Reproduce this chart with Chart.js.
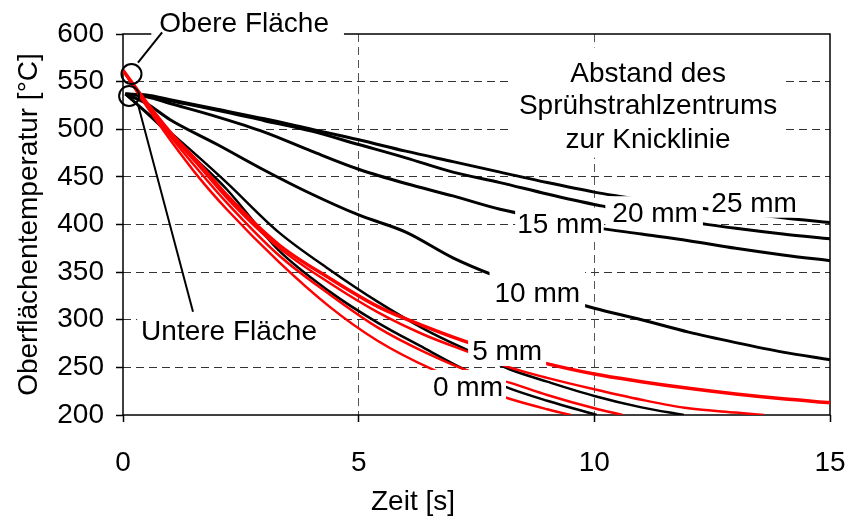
<!DOCTYPE html>
<html><head><meta charset="utf-8">
<script src="https://cdn.jsdelivr.net/npm/chart.js@4/dist/chart.umd.min.js"></script>
<style>html,body{margin:0;padding:0;background:#fff}</style>
</head><body>
<canvas id="c" width="851" height="518"></canvas>
<script>
// ---- tick labels ----
const yTicks = [200, 250, 300, 350, 400, 450, 500, 550, 600];
const xTicks = [0, 5, 10, 15];

// ---- upper surface (red) ----
const tR1 = [0, 0.5, 1, 1.6, 2.2, 3.3, 4.4, 5.4, 6.4, 7.4, 8.9, 10, 11, 12, 13, 14, 15];
const vR1 = [562, 528, 497, 465, 431, 379, 343, 314, 293, 275, 255, 243, 235, 228, 222, 217, 213];
const tR2 = [0, 0.5, 1, 1.6, 2.2, 3.3, 4.4, 5.4, 6.4, 7.4, 8.2, 9, 10, 11, 12, 13, 13.6];
const vR2 = [562, 527, 495, 462, 428, 376, 338, 308, 284, 265, 250, 239, 227, 216, 207, 202.5, 200];
const tR3 = [0, 0.5, 1, 1.6, 2.2, 3.3, 4.4, 5.4, 6.4, 7.4, 8.2, 9, 10, 10.6];
const vR3 = [562, 526, 493, 457, 423, 368, 326, 292, 266, 245, 234, 221, 207, 200];
const tR4 = [0, 0.5, 1, 1.6, 2.2, 3.3, 4.4, 5.4, 6.6, 7.4, 8.2, 9, 9.5];
const vR4 = [562, 524, 489, 450, 416, 361, 313, 278, 247, 231, 217, 206, 200];

// ---- lower surface (black) ----
const tUp  = [0.05, 0.5, 1, 2, 3, 4, 5, 6, 7, 8, 9, 10, 11, 12, 13, 14, 15];
const vB25 = [537, 536, 531, 521, 511, 500, 489, 477, 466, 455, 444, 434, 426, 419, 413, 407, 402];
const vB20 = [537, 535, 530, 520, 509, 498, 484, 470, 455, 444, 432, 421, 412, 403, 396, 390, 385];
const vB15 = [537, 534, 527, 513, 497, 477, 458, 443, 430, 416, 406, 397, 390, 383, 375, 368, 362];
const tB10 = [0.05, 0.5, 1, 2, 3, 4, 5, 6, 7, 7.85, 9, 10, 11, 12, 13, 14, 15];
const vB10 = [537, 527, 510, 484, 457, 432, 410, 392, 365, 347, 327, 312, 300, 287, 276, 266, 258];
const tB5 = [0.05, 0.5, 1, 1.6, 2.2, 3.3, 4.4, 5.4, 6.4, 7.4, 8.2, 9, 10, 11, 11.9];
const vB5 = [537, 518, 497, 471, 444, 392, 352, 319, 290, 266, 248, 235, 220, 208, 200];
const tB0 = [0.05, 0.5, 1, 1.6, 2.2, 3.3, 4.4, 5.4, 6.4, 7.2, 8.2, 9, 10.05];
const vB0 = [537, 517, 494, 466, 437, 373, 329, 297, 270, 249, 228, 215, 200];

// ---- texts ----
const curveLabels = ['25 mm', '20 mm', '15 mm', '10 mm', '5 mm', '0 mm'];
const legendLines = ['Abstand des', 'Sprühstrahlzentrums', 'zur Knicklinie'];
const txtUpper = 'Obere Fläche';
const txtLower = 'Untere Fläche';
const xTitle = 'Zeit [s]';
const yTitle = 'Oberflächentemperatur [°C]';

const FAM = '"Liberation Sans", Arial, Helvetica, sans-serif';
const FS = 28;

function pts(t, v) { return t.map((x, i) => ({x: x, y: v[i]})); }
function ds(t, v, color, w, order) {
  return {data: pts(t, v), borderColor: color, borderWidth: w, pointRadius: 0,
          cubicInterpolationMode: 'monotone', fill: false, order: order};
}

// annotation placement (data units) and white-box paddings (px)
const labelPlacement = [
  {t: 13.39, v: 423.9, pad: [3, 14, 3, 16]},
  {t: 11.29, v: 412.9, pad: [7, 16, 5, 14]},
  {t: 9.27,  v: 401.9, pad: [2, 15, 1, 15]},
  {t: 8.79,  v: 329.3, pad: [5, 20, 5, 16]},
  {t: 8.15,  v: 268.3, pad: [4, 14, 4, 16]},
  {t: 7.32,  v: 230.5, pad: [4, 16, 3, 16]}
];

const annot = {
  id: 'annot',
  beforeDatasetsDraw(chart) {
    const {ctx, chartArea: a} = chart;
    ctx.save();
    ctx.strokeStyle = '#000';
    ctx.lineWidth = 1.5;
    ctx.strokeRect(a.left, a.top, a.right - a.left, a.bottom - a.top);
    ctx.restore();
  },
  afterDatasetsDraw(chart) {
    const {ctx, scales: {x, y}} = chart;
    const X = v => x.getPixelForValue(v), Y = v => y.getPixelForValue(v);
    ctx.save();
    ctx.font = FS + 'px ' + FAM;
    ctx.textAlign = 'center';
    ctx.textBaseline = 'alphabetic';
    const capOff = 0.358 * FS;
    function boxText(txt, cx, cy, pad) {
      const w = ctx.measureText(txt).width;
      ctx.fillStyle = '#fff';
      ctx.fillRect(cx - w / 2 - pad[0], cy - pad[1], w + pad[0] + pad[2], pad[1] + pad[3]);
      ctx.fillStyle = '#000';
      ctx.fillText(txt, cx, cy + capOff);
    }
    curveLabels.forEach((s, i) => {
      const p = labelPlacement[i];
      boxText(s, X(p.t), Y(p.v), p.pad);
    });
    // legend block
    const lx = X(11.14);
    const ly = [Y(560.6), Y(526.9), Y(491.2)];
    let mw = 0; legendLines.forEach(s => mw = Math.max(mw, ctx.measureText(s).width));
    ctx.fillStyle = '#fff';
    ctx.fillRect(lx - mw / 2 - 8, ly[0] - 24, mw + 16, ly[2] - ly[0] + 44);
    ctx.fillStyle = '#000';
    legendLines.forEach((s, i) => ctx.fillText(s, lx, ly[i] + capOff));
    // surface labels
    boxText(txtLower, X(2.25), Y(289.4), [4, 14, 4, 16]);
    boxText(txtUpper, X(2.57), Y(612.6), [8, 18, 15, 18]);
    // circles and pointers
    ctx.strokeStyle = '#000';
    ctx.lineWidth = 2;
    ctx.beginPath(); ctx.arc(X(0.18), Y(558), 10, 0, Math.PI * 2); ctx.stroke();
    ctx.beginPath(); ctx.arc(X(0.13), Y(535), 10, 0, Math.PI * 2); ctx.stroke();
    ctx.beginPath(); ctx.moveTo(X(0.318), Y(570)); ctx.lineTo(X(0.83), Y(601.6)); ctx.stroke();
    ctx.beginPath(); ctx.moveTo(X(0.318), Y(525.9)); ctx.lineTo(X(1.485), Y(308.3)); ctx.stroke();
    // axis titles
    ctx.fillText(xTitle, 413, 500 + capOff);
    ctx.translate(27, (chart.chartArea.top + chart.chartArea.bottom) / 2);
    ctx.rotate(-Math.PI / 2);
    ctx.fillText(yTitle, 0, capOff);
    ctx.restore();
  }
};

const edgeClear = (lo, hi, col) => c => (c.tick && (c.tick.value === lo || c.tick.value === hi)) ? 'rgba(0,0,0,0)' : col;

new Chart(document.getElementById('c'), {
  type: 'line',
  data: {
    datasets: [
      ds(tR1, vR1, '#ff0000', 3.5, 0),
      ds(tR2, vR2, '#ff0000', 2.5, 0),
      ds(tR3, vR3, '#ff0000', 2.5, 0),
      ds(tR4, vR4, '#ff0000', 2.5, 0),
      ds(tUp, vB25, '#000', 3, 1),
      ds(tUp, vB20, '#000', 3, 1),
      ds(tUp, vB15, '#000', 3, 1),
      ds(tB10, vB10, '#000', 3, 1),
      ds(tB5, vB5, '#000', 2.5, 1),
      ds(tB0, vB0, '#000', 2.5, 1)
    ]
  },
  options: {
    responsive: false,
    animation: false,
    layout: {padding: {left: 0, right: 21, top: 34, bottom: 0}},
    plugins: {legend: {display: false}, tooltip: {enabled: false}},
    scales: {
      x: {
        type: 'linear', min: 0, max: 15,
        afterBuildTicks: s => { s.ticks = xTicks.map(v => ({value: v})); },
        afterFit: s => { s.height = 103; s.paddingLeft = 0; s.paddingRight = 0; },
        ticks: {color: '#000', font: {family: FAM, size: FS}, padding: 24, maxRotation: 0},
        grid: {color: edgeClear(0, 15, '#555'), lineWidth: 1, tickColor: '#000', tickLength: 7, tickWidth: 1.5},
        border: {display: false, dash: [8, 5]}
      },
      y: {
        type: 'linear', min: 200, max: 600,
        afterBuildTicks: s => { s.ticks = yTicks.map(v => ({value: v})); },
        afterFit: s => { s.width = 123; s.paddingTop = 0; s.paddingBottom = 0; },
        ticks: {color: '#000', font: {family: FAM, size: FS}, padding: 12},
        grid: {color: edgeClear(200, 600, '#333'), lineWidth: 1, tickColor: '#000', tickLength: 7, tickWidth: 1.5},
        border: {display: false, dash: [8, 5]}
      }
    }
  },
  plugins: [annot]
});
</script>
</body></html>
